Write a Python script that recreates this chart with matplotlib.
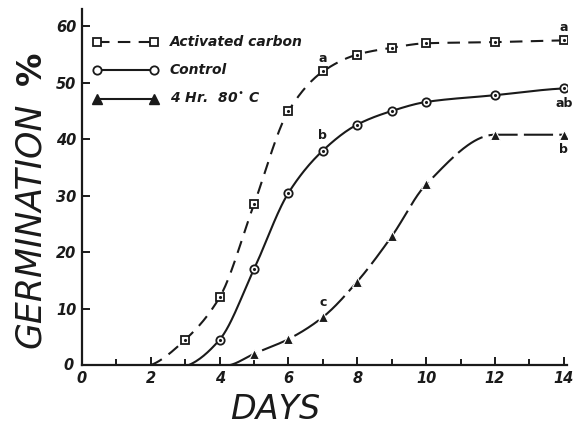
import numpy as np
import matplotlib
matplotlib.use("Agg")
import matplotlib.pyplot as plt

# data
days = [3, 4, 5, 6, 7, 8, 9, 10, 12, 14]
carbon = [4.5, 12, 28.5, 45, 52, 55, 56.2, 57, 57.2, 57.5]
carbon_start = (2.0, 0.0)

ctrl_days = [4, 5, 6, 7, 8, 9, 10, 12, 14]
control = [4.5, 17, 30.5, 38, 42.6, 45, 46.6, 47.8, 49]
control_start = (3.1, 0.0)

heat_days = [5, 6, 7, 8, 9, 10, 12, 14]
heat = [2, 4.6, 8.5, 14.8, 22.8, 32, 40.8, 40.8]
heat_start = (4.3, 0.0)

x_ticks = [0, 2, 4, 6, 8, 10, 12, 14]
y_ticks = [10, 20, 30, 40, 50, 60]


def pchip(x, y, xn):
    # monotone cubic curve through the points, only for drawing the line
    x = np.asarray(x, float)
    y = np.asarray(y, float)
    h = np.diff(x)
    d = np.diff(y) / h
    m = np.zeros_like(y)
    for k in range(1, len(x) - 1):
        if d[k - 1] * d[k] > 0:
            w1 = 2 * h[k] + h[k - 1]
            w2 = h[k] + 2 * h[k - 1]
            m[k] = (w1 + w2) / (w1 / d[k - 1] + w2 / d[k])
    m[0] = d[0] * 0.5
    m[-1] = d[-1] * 0.5
    out = np.empty_like(xn)
    for i, xv in enumerate(xn):
        k = min(np.searchsorted(x, xv) - 1, len(x) - 2)
        k = max(k, 0)
        t = (xv - x[k]) / h[k]
        h00 = 2 * t**3 - 3 * t**2 + 1
        h10 = t**3 - 2 * t**2 + t
        h01 = -2 * t**3 + 3 * t**2
        h11 = t**3 - t**2
        out[i] = h00 * y[k] + h10 * h[k] * m[k] + h01 * y[k + 1] + h11 * h[k] * m[k + 1]
    return out


def curve(start, xs, ys):
    x = [start[0]] + list(xs)
    y = [start[1]] + list(ys)
    xn = np.linspace(x[0], x[-1], 300)
    return xn, pchip(x, y, xn)


fig = plt.figure(figsize=(5.73, 4.26), dpi=100)
ax = fig.add_axes([0.143, 0.143, 0.847, 0.835])

ink = "#1a1a1a"

xc, yc = curve(carbon_start, days, carbon)
ax.plot(xc, yc, color=ink, lw=1.5, dashes=(6, 4))
ax.plot(days, carbon, ls="none", marker="s", ms=5.5, mfc="white", mec=ink, mew=1.3)
ax.plot(days, carbon, ls="none", marker=".", ms=2.5, color=ink)

xc, yc = curve(control_start, ctrl_days, control)
ax.plot(xc, yc, color=ink, lw=1.5)
ax.plot(ctrl_days, control, ls="none", marker="o", ms=6, mfc="white", mec=ink, mew=1.3)
ax.plot(ctrl_days, control, ls="none", marker=".", ms=2.5, color=ink)

xc, yc = curve(heat_start, heat_days, heat)
ax.plot(xc, yc, color=ink, lw=1.5, dashes=(14, 3))
ax.plot(heat_days, heat, ls="none", marker="^", ms=6.5, color=ink, mec="white", mew=0.8)

# significance letters
lab = dict(fontsize=9, fontweight="bold", color=ink, ha="center")
ax.text(7, carbon[4] + 1.2, "a", va="bottom", **lab)
ax.text(14, carbon[-1] + 1.2, "a", va="bottom", **lab)
ax.text(7, control[3] + 1.5, "b", va="bottom", **lab)
ax.text(14, control[-1] - 1.5, "ab", va="top", **lab)
ax.text(7, heat[2] + 1.5, "c", va="bottom", **lab)
ax.text(14, heat[-1] - 1.5, "b", va="top", **lab)

# legend drawn by hand in the upper left
leg_y = [57.3, 52.2, 47.1]
lx0, lx1 = 0.45, 2.1
ax.plot([lx0, lx1], [leg_y[0]] * 2, color=ink, lw=1.5, dashes=(6, 4))
ax.plot([lx0, lx1], [leg_y[0]] * 2, ls="none", marker="s", ms=5.5, mfc="white", mec=ink, mew=1.3)
ax.plot([lx0, lx1], [leg_y[1]] * 2, color=ink, lw=1.5, marker="o", ms=6, mfc="white", mec=ink, mew=1.3)
ax.plot([lx0, lx1], [leg_y[2]] * 2, color=ink, lw=1.5, marker="^", ms=6.5, mfc=ink, mec=ink)
names = ["Activated carbon", "Control", "4 Hr.  80$^{\\bullet}$ C"]
for yy, nm in zip(leg_y, names):
    ax.text(2.55, yy, nm, fontsize=10, style="italic", fontweight="bold", va="center", color=ink)

ax.set_xlim(0, 14.1)
ax.set_ylim(0, 63)
ax.spines["top"].set_visible(False)
ax.spines["right"].set_visible(False)
for s in ["left", "bottom"]:
    ax.spines[s].set_linewidth(1.6)
    ax.spines[s].set_color(ink)

ax.set_xticks(x_ticks)
ax.set_xticks(range(1, 15, 2), minor=True)
ax.set_yticks([0] + y_ticks)
ax.set_yticklabels([""] + [str(v) for v in y_ticks])
ax.set_xticklabels(["0"] + [str(v) for v in x_ticks[1:]])
ax.tick_params(direction="in", length=6, width=1.4, colors=ink,
               labelsize=10.5, pad=4)
ax.tick_params(axis="x", which="minor", direction="in", length=4, width=1.4, colors=ink)
for t in ax.get_xticklabels() + ax.get_yticklabels():
    t.set_style("italic")
    t.set_fontweight("bold")
ax.text(-0.25, 0, "0", fontsize=10.5, style="italic", fontweight="bold",
        ha="right", va="center", color=ink)

fig.text(0.48, 0.038, "DAYS", fontsize=24, ha="center", va="center", color=ink,
         family="DejaVu Sans", style="italic")
fig.text(0.053, 0.47, "GERMINATION", fontsize=25, rotation=90, ha="center",
         va="center", color=ink, family="DejaVu Sans", style="italic")
fig.text(0.055, 0.84, "%", fontsize=24, rotation=90, ha="center",
         va="center", color=ink, family="DejaVu Sans", fontweight="bold")

fig.savefig("out.png", dpi=100)
